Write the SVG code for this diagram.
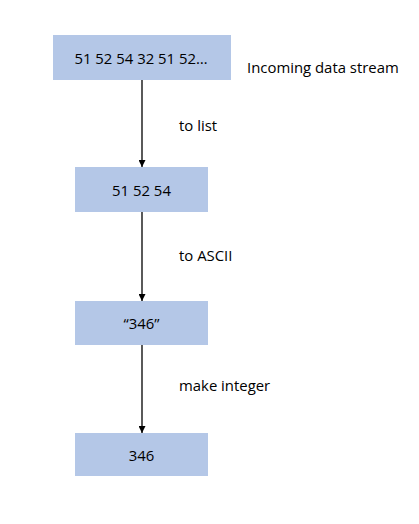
<svg xmlns="http://www.w3.org/2000/svg" width="419" height="524" viewBox="0 0 419 524">
<style>
.box{fill:#B4C7E7;}
.t{font-family:"Open Sans","Liberation Sans",sans-serif;font-size:14.9px;fill:#000;}
.c{text-anchor:middle;dominant-baseline:central;}
.ln{stroke:#000;stroke-width:1.3;fill:none;marker-end:url(#ah);}
</style>
<defs>
<marker id="ah" viewBox="0 0 10 10" refX="10" refY="5" markerWidth="7" markerHeight="7" markerUnits="userSpaceOnUse" orient="auto">
<path d="M0,0 L10,5 L0,10 Z" fill="#000"/>
</marker>
</defs>
<rect width="419" height="524" fill="#fff"/>
<g id="connectors">
<line class="ln" x1="142" y1="80" x2="142" y2="167"/>
<line class="ln" x1="142" y1="212" x2="142" y2="301"/>
<line class="ln" x1="142" y1="345" x2="142" y2="433"/>
</g>
<g id="n1"><rect class="box" x="53" y="35" width="178" height="45"/><text class="t c" x="141" y="57.5">51 52 54 32 51 52…</text></g>
<g id="n2"><rect class="box" x="75" y="167" width="133" height="45"/><text class="t c" x="141.5" y="189.5">51 52 54</text></g>
<g id="n3"><rect class="box" x="75" y="301" width="133" height="44"/><text class="t c" x="141.5" y="323">“346”</text></g>
<g id="n4"><rect class="box" x="75" y="433" width="133" height="43"/><text class="t c" x="141.5" y="454.5">346</text></g>
<g id="labels">
<text class="t" x="247" y="73">Incoming data stream</text>
<text class="t" x="179" y="131">to list</text>
<text class="t" x="179" y="261">to ASCII</text>
<text class="t" x="179" y="391">make integer</text>
</g>
</svg>
